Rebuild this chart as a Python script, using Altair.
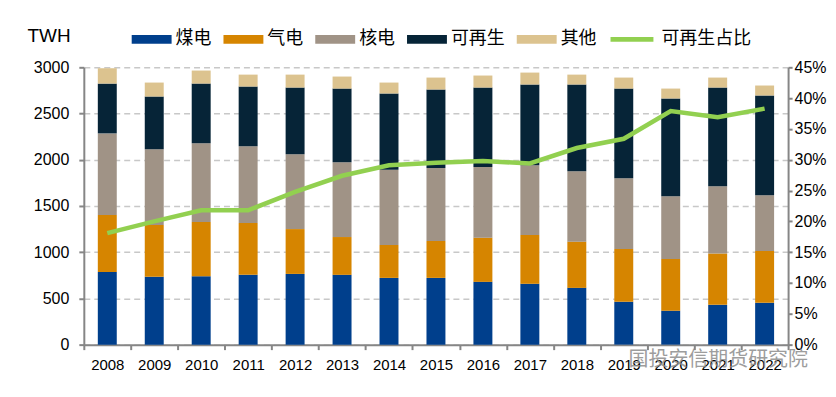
import altair as alt
import pandas as pd

years = ["2008", "2009", "2010", "2011", "2012", "2013", "2014", "2015",
         "2016", "2017", "2018", "2019", "2020", "2021", "2022"]
coal = [787, 733, 740, 755, 765, 755, 722, 722, 679, 658, 614, 464, 367, 431, 453]
gas = [614, 561, 586, 560, 485, 409, 356, 399, 478, 528, 500, 571, 560, 554, 560]
nuclear = [884, 819, 852, 830, 809, 809, 815, 791, 765, 754, 762, 765, 679, 729, 604]
renewable = [539, 571, 646, 647, 722, 797, 824, 848, 859, 874, 938, 970, 1057, 1067, 1078]
other = [166, 151, 141, 129, 140, 130, 118, 129, 130, 129, 107, 119, 107, 108, 108]
share = [0.181, 0.200, 0.218, 0.218, 0.248, 0.274, 0.291, 0.295, 0.298, 0.294,
         0.319, 0.334, 0.379, 0.369, 0.383]

series_names = ["煤电", "气电", "核电", "可再生", "其他"]
line_name = "可再生占比"
bar_colors = ["#003F8C", "#D68500", "#A09386", "#062437", "#DCC38F"]
line_color = "#92D050"

rows = []
for si, (name, vals) in enumerate(zip(series_names, [coal, gas, nuclear, renewable, other])):
    for y, v in zip(years, vals):
        rows.append({"year": y, "source": name, "value": v, "idx": si})
bars_df = pd.DataFrame(rows)
line_df = pd.DataFrame({"year": years, "share": share, "series": [line_name] * len(years)})

AXC = "#868686"
rect_path = "M-1,-0.9H7V0.9H-1Z"
line_path = "M-1,0H7.6"

bar_legend = alt.Legend(orient="none", legendX=44, legendY=-37,
                        direction="horizontal", columns=5, columnPadding=8,
                        symbolType=rect_path, symbolSize=100,
                        symbolStrokeWidth=0, labelOffset=30,
                        labelFont="Noto Sans CJK SC", labelFontSize=18,
                        labelColor="#000000", labelLimit=200, title=None)
line_legend = alt.Legend(orient="none", legendX=524, legendY=-37,
                         direction="horizontal", symbolType=line_path, symbolSize=100,
                         symbolStrokeWidth=5, symbolStrokeColor=line_color,
                         labelOffset=37,
                         labelFont="Noto Sans CJK SC", labelFontSize=18,
                         labelColor="#000000", labelLimit=200, title=None)

xenc = alt.X("year:N", title=None,
             scale=alt.Scale(paddingInner=0, paddingOuter=0),
             axis=alt.Axis(labelAngle=0, tickBand="extent", domainColor=AXC, tickColor=AXC,
                           domainWidth=2, tickWidth=2, tickSize=5,
                           labelFont="Liberation Sans", labelFontSize=15,
                           labelColor="#000000", labelPadding=8))

bars = alt.Chart(bars_df).mark_bar(size=19).encode(
    x=xenc,
    y=alt.Y("value:Q", stack="zero",
            scale=alt.Scale(domain=[0, 3000], nice=False),
            axis=alt.Axis(values=[0, 500, 1000, 1500, 2000, 2500, 3000], title="TWH",
                          format="d",
                          titleAngle=0, titleX=-57, titleY=-32, titleAlign="left",
                          titleBaseline="middle", titleFontSize=19, titleFontWeight="normal",
                          titleFont="Liberation Sans", titleColor="#000000",
                          labelFont="Liberation Sans", labelFontSize=16, labelColor="#000000",
                          labelPadding=10, tickSize=5, tickColor=AXC, tickWidth=2,
                          domainColor=AXC, domainWidth=2,
                          grid=True, gridColor="#C8C8C8", gridDash=[6, 4], gridWidth=1.5)),
    color=alt.Color("source:N", scale=alt.Scale(domain=series_names, range=bar_colors),
                    legend=bar_legend),
    order=alt.Order("idx:Q", sort="ascending"),
)

line = alt.Chart(line_df).mark_line(strokeWidth=4.5).encode(
    x=alt.X("year:N"),
    y=alt.Y("share:Q", scale=alt.Scale(domain=[0, 0.45], nice=False),
            axis=alt.Axis(orient="right", title=None, format=".0%",
                          values=[0, 0.05, 0.1, 0.15, 0.2, 0.25, 0.3, 0.35, 0.4, 0.45],
                          labelFont="Liberation Sans", labelFontSize=16, labelColor="#000000",
                          labelPadding=2, tickSize=4, tickColor=AXC, tickWidth=2,
                          domainColor=AXC, domainWidth=2, grid=False)),
    stroke=alt.Stroke("series:N", scale=alt.Scale(domain=[line_name], range=[line_color]),
                      legend=line_legend),
)

watermark = alt.Chart(pd.DataFrame({"t": ["国投安信期货研究院"]})).mark_text(
    font="Noto Sans CJK SC", fontSize=20, color="#8C8C8C", opacity=0.85,
    align="center", baseline="middle"
).encode(text="t:N", x=alt.value(636), y=alt.value(293))

chart = alt.layer(bars, line, watermark).resolve_scale(y="independent").properties(
    width=706, height=278,
    autosize=alt.AutoSizeParams(type="none"),
    padding={"left": 76, "top": 59, "right": 40, "bottom": 36},
).configure_view(stroke=None)

chart.save("out.html", embed_options={"renderer": "svg", "actions": False})
